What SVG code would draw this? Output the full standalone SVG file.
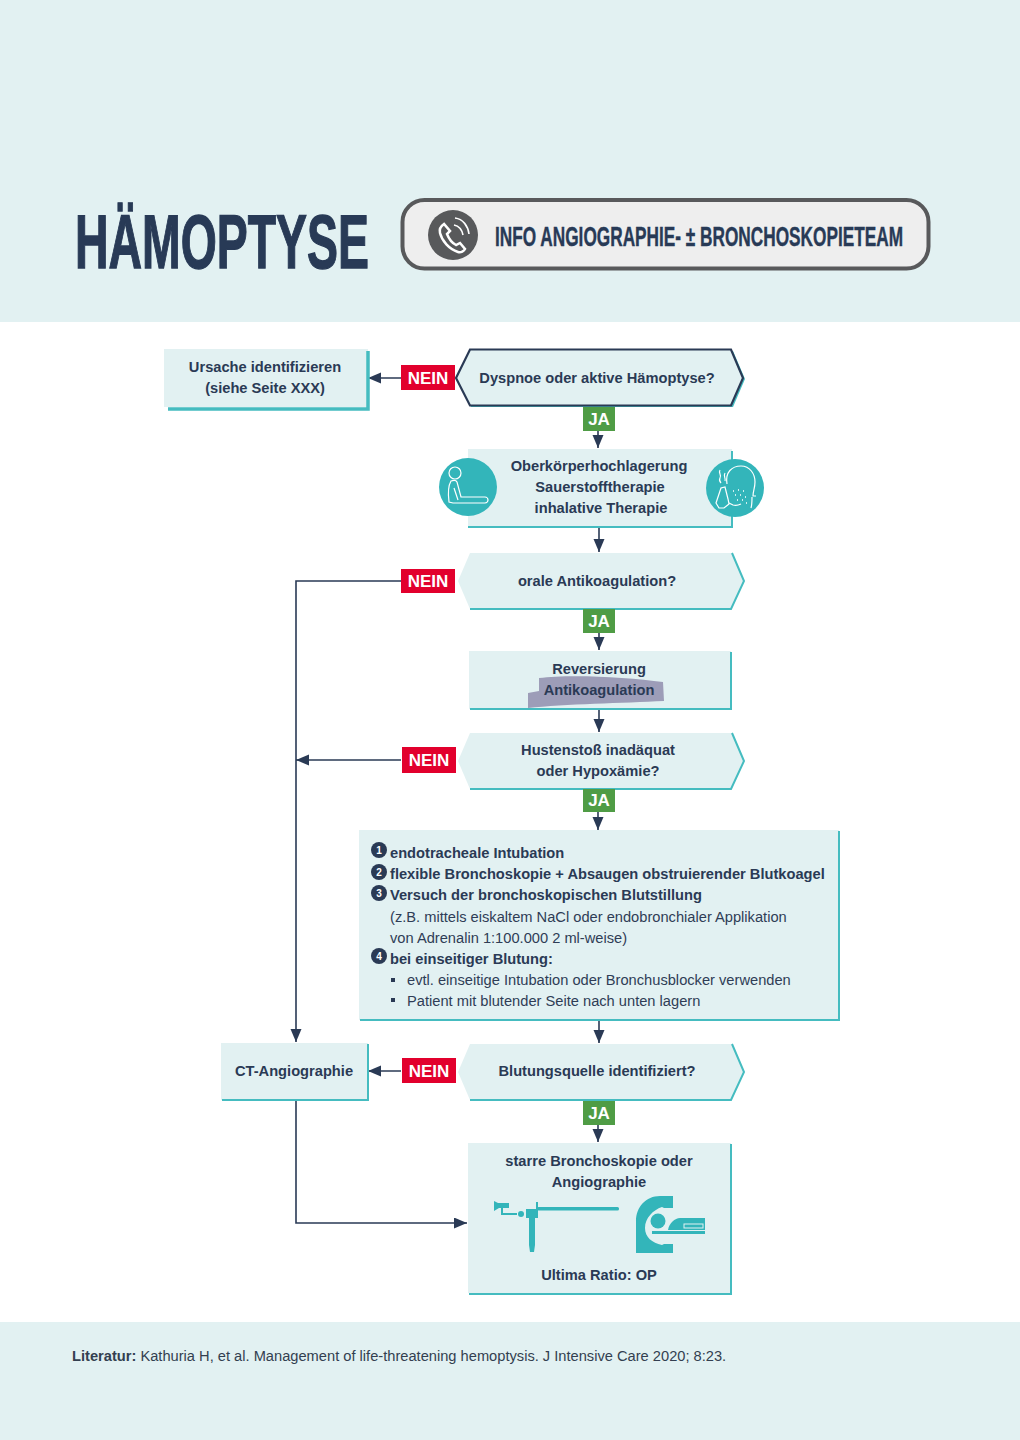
<svg xmlns="http://www.w3.org/2000/svg" width="1020" height="1440" viewBox="0 0 1020 1440">
<style>
text{font-family:"Liberation Sans",Arial,sans-serif;fill:#2a3a55}
.b{font-weight:700;font-size:14.67px;text-anchor:middle}
.l{font-weight:700;font-size:14.67px}
.r{font-size:14.67px;fill:#2f3d56}
.tag{font-weight:700;font-size:17px;fill:#fff;text-anchor:middle}
.box{fill:#e2f1f2}
.t{fill:none;stroke:#45bcc0;stroke-width:2}
.c{fill:none;stroke:#2a3a55;stroke-width:1.6}
.nein{fill:#e2002d}.ja{fill:#4f9c45}
.num{font-weight:700;font-size:10px;fill:#fff;text-anchor:middle}
.ic{fill:#33b5ba}
.w{fill:none;stroke:#fff;stroke-width:1.2}
.hd{font-weight:700;fill:#283a56;stroke:#283a56}
</style>
<defs>
<marker id="a" markerWidth="14" markerHeight="12" refX="13" refY="5.500" orient="auto" markerUnits="userSpaceOnUse"><path d="M0 0L13 5.500L0 11Z" fill="#2a3a55"/></marker>
</defs>
<g id="bands">
<rect width="1020" height="322" fill="#e2f1f2"/>
<rect y="1322" width="1020" height="118" fill="#e2f1f2"/>
</g>
<g id="header">
<text class="hd" transform="translate(75 268) scale(1 1.6)" textLength="294" lengthAdjust="spacingAndGlyphs" style="font-size:47px;stroke-width:.8">HÄMOPTYSE</text>
<rect x="402.500" y="200" width="526" height="68.500" rx="22" fill="#eeeeee" stroke="#58595b" stroke-width="4"/>
<circle cx="453" cy="235" r="25" fill="#58595b"/>
<path d="M444 224c-3 2-5 5-4 9c2 8 9 16 18 19c3 1 6-1 7-3l-5-6l-4 2c-4-2-7-6-9-11l3-3Z" fill="none" stroke="#fff" stroke-width="2.500"/>
<path d="M454 225c5 1 8 5 9 10M455 218c8 1 13 8 14 16" fill="none" stroke="#fff" stroke-width="1.600"/>
<text class="hd" transform="translate(495 246) scale(1 1.7)" textLength="408" lengthAdjust="spacingAndGlyphs" style="font-size:16.500px;stroke-width:.25">INFO ANGIOGRAPHIE- ± BRONCHOSKOPIETEAM</text>
</g>
<g id="connectors">
<path class="c" d="M401 378H368" marker-end="url(#a)"/>
<path class="c" d="M598 430V448" marker-end="url(#a)"/>
<path class="c" d="M599 527V552" marker-end="url(#a)"/>
<path class="c" d="M401 581H296V1042" marker-end="url(#a)"/>
<path class="c" d="M599 632V650" marker-end="url(#a)"/>
<path class="c" d="M599 710V732" marker-end="url(#a)"/>
<path class="c" d="M401 760H296" marker-end="url(#a)"/>
<path class="c" d="M598 811V830" marker-end="url(#a)"/>
<path class="c" d="M599 1020V1043" marker-end="url(#a)"/>
<path class="c" d="M401 1071H368" marker-end="url(#a)"/>
<path class="c" d="M598 1124V1142" marker-end="url(#a)"/>
<path class="c" d="M296 1100V1223H467" marker-end="url(#a)"/>
</g>
<g id="n-ursache">
<rect class="box" x="164" y="349" width="204" height="58"/>
<path d="M368 351V409H168" fill="none" stroke="#45bcc0" stroke-width="3.500"/>
<text class="b" x="265" y="372">Ursache identifizieren</text>
<text class="b" x="265" y="393">(siehe Seite XXX)</text>
</g>
<g id="n-dyspnoe">
<path d="M458 379L471 351H733L745 379L733 407H471Z" fill="#45bcc0"/>
<path d="M456 378L470 349.500H731L743 378L731 405.500H470Z" fill="#e2f1f2" stroke="#2a3a55" stroke-width="2.200"/>
<text class="b" x="597" y="383">Dyspnoe oder aktive Hämoptyse?</text>
</g>
<g id="n-lagerung">
<rect class="box" x="468" y="449" width="264" height="77"/>
<path class="t" d="M732 451V527H468" stroke-width="1.500"/>
<text class="b" x="599" y="471">Oberkörperhochlagerung</text>
<text class="b" x="600" y="492">Sauerstofftherapie</text>
<text class="b" x="601" y="513">inhalative Therapie</text>
<circle class="ic" cx="468" cy="487" r="29"/>
<circle class="w" cx="455" cy="473" r="6"/>
<path class="w" d="M451 481c-3 5-3 13-2 21l4 1h32c2 0 3-2 3-3s-1-3-3-3h-24l-4-15c-1-2-3-2-6-1ZM454 488l4 12"/>
<circle class="ic" cx="735" cy="488" r="29"/>
<path class="w" d="M727 484c-2-12 5-18 14-18c9 0 14 8 14 16c0 6-2 9-2 14l3 0M729 503l4 2c3 1 6 0 8-1M752 497c0 5 0 8-1 11"/>
<path class="w" d="M720 470c-2 3 2 5 0 8c-1 2 0 4 1 5M725 473c-2 3 1 5 0 8M721 488l-5 15l3 5h5l5-4l-1-5l-3-12Z"/>
<path d="M733 491h1M738 490h1M743 491h1M735 495h1M740 495h1M745 497h1M737 500h1M742 500h1M746 503h1" stroke="#fff" stroke-width="1.500" fill="none"/>
</g>
<g id="n-oral">
<path class="box" d="M458 581L470 553H732L744 581L732 609H470Z"/>
<path class="t" d="M732 553L744 581L731 609H470"/>
<text class="b" x="597" y="586">orale Antikoagulation?</text>
</g>
<g id="n-reversierung">
<rect class="box" x="469" y="651" width="262" height="58"/>
<path class="t" d="M731 652V709H470"/>
<path d="M539 678c30-4 90-1 124 4l1 19c-40 2-100 3-136 7l0-15l11-2Z" fill="#9d9db8"/>
<text class="b" x="599" y="674">Reversierung</text>
<text class="b" x="599" y="695">Antikoagulation</text>
</g>
<g id="n-husten">
<path class="box" d="M458 761L470 733H732L744 761L732 789H470Z"/>
<path class="t" d="M732 733L744 761L731 789H470"/>
<text class="b" x="598" y="755">Hustenstoß inadäquat</text>
<text class="b" x="598" y="776">oder Hypoxämie?</text>
</g>
<g id="n-massnahmen">
<rect class="box" x="359" y="830" width="480" height="190"/>
<path class="t" d="M839 831V1020H360"/>
<circle cx="379" cy="850" r="8" fill="#2a3a55"/><text class="num" x="379" y="854">1</text>
<circle cx="379" cy="872" r="8" fill="#2a3a55"/><text class="num" x="379" y="876">2</text>
<circle cx="379" cy="893" r="8" fill="#2a3a55"/><text class="num" x="379" y="897">3</text>
<circle cx="379" cy="956" r="8" fill="#2a3a55"/><text class="num" x="379" y="960">4</text>
<text class="l" x="390" y="858">endotracheale Intubation</text>
<text class="l" x="390" y="879">flexible Bronchoskopie + Absaugen obstruierender Blutkoagel</text>
<text class="l" x="390" y="900">Versuch der bronchoskopischen Blutstillung</text>
<text class="r" x="390" y="922">(z.B. mittels eiskaltem NaCl oder endobronchialer Applikation</text>
<text class="r" x="390" y="943">von Adrenalin 1:100.000 2 ml-weise)</text>
<text class="l" x="390" y="964">bei einseitiger Blutung:</text>
<rect x="391" y="978" width="4" height="4" fill="#2a3a55"/>
<text class="r" x="407" y="985">evtl. einseitige Intubation oder Bronchusblocker verwenden</text>
<rect x="391" y="998" width="4" height="4" fill="#2a3a55"/>
<text class="r" x="407" y="1006">Patient mit blutender Seite nach unten lagern</text>
</g>
<g id="n-ct">
<rect class="box" x="221" y="1043" width="147" height="57"/>
<path class="t" d="M368 1044V1100H222"/>
<text class="b" x="294" y="1076">CT-Angiographie</text>
</g>
<g id="n-blutung">
<path class="box" d="M458 1072L470 1044H732L744 1072L732 1100H470Z"/>
<path class="t" d="M732 1044L744 1072L731 1100H470"/>
<text class="b" x="597" y="1076">Blutungsquelle identifiziert?</text>
</g>
<g id="n-starre">
<rect class="box" x="468" y="1143" width="263" height="150"/>
<path class="t" d="M731 1144V1294H469"/>
<text class="b" x="599" y="1166">starre Bronchoskopie oder</text>
<text class="b" x="599" y="1187">Angiographie</text>
<text class="b" x="599" y="1280">Ultima Ratio: OP</text>
<g class="ic">
<path d="M494 1201l4 2h11v5h-10l-5 3Z"/>
<path d="M501 1208h2v5h14v2h-16Z"/>
<circle cx="521" cy="1214" r="3"/>
<path d="M526 1209h12v9h-3v27l-1 7h-4l-1-7v-27h-3Z"/>
<rect x="537" y="1207" width="82" height="3.500" rx="1.500"/>
<rect x="536" y="1202" width="2" height="8"/>
<path d="M673 1196v12h-9l-2-1c-9 3-17 11-17 21c0 9 7 15 17 17l2-1h9v9h-37v-32c0-14 10-25 24-25Z"/>
<circle cx="658" cy="1221" r="7.500"/>
<path d="M668 1230c1-7 7-12 12-12h25v12Z"/>
<rect x="652" y="1231" width="53" height="3"/>
</g>
<rect x="684" y="1224" width="19" height="4" fill="none" stroke="#e2f1f2"/>
</g>
<g id="tags">
<rect class="nein" x="401" y="365" width="54" height="25"/><text class="tag" x="428" y="384">NEIN</text>
<rect class="nein" x="401" y="569" width="54" height="24"/><text class="tag" x="428" y="587">NEIN</text>
<rect class="nein" x="402" y="747" width="54" height="26"/><text class="tag" x="429" y="766">NEIN</text>
<rect class="nein" x="402" y="1058" width="54" height="25"/><text class="tag" x="429" y="1077">NEIN</text>
<rect class="ja" x="583" y="407" width="32" height="24"/><text class="tag" x="599" y="425">JA</text>
<rect class="ja" x="583" y="609" width="32" height="24"/><text class="tag" x="599" y="627">JA</text>
<rect class="ja" x="583" y="789" width="32" height="23"/><text class="tag" x="599" y="806">JA</text>
<rect class="ja" x="583" y="1101" width="32" height="24"/><text class="tag" x="599" y="1119">JA</text>
</g>
<g id="literatur">
<text x="72" y="1361" style="font-size:14.67px;fill:#333f50"><tspan style="font-weight:700">Literatur:</tspan> Kathuria H, et al. Management of life-threatening hemoptysis. J Intensive Care 2020; 8:23.</text>
</g>
</svg>
